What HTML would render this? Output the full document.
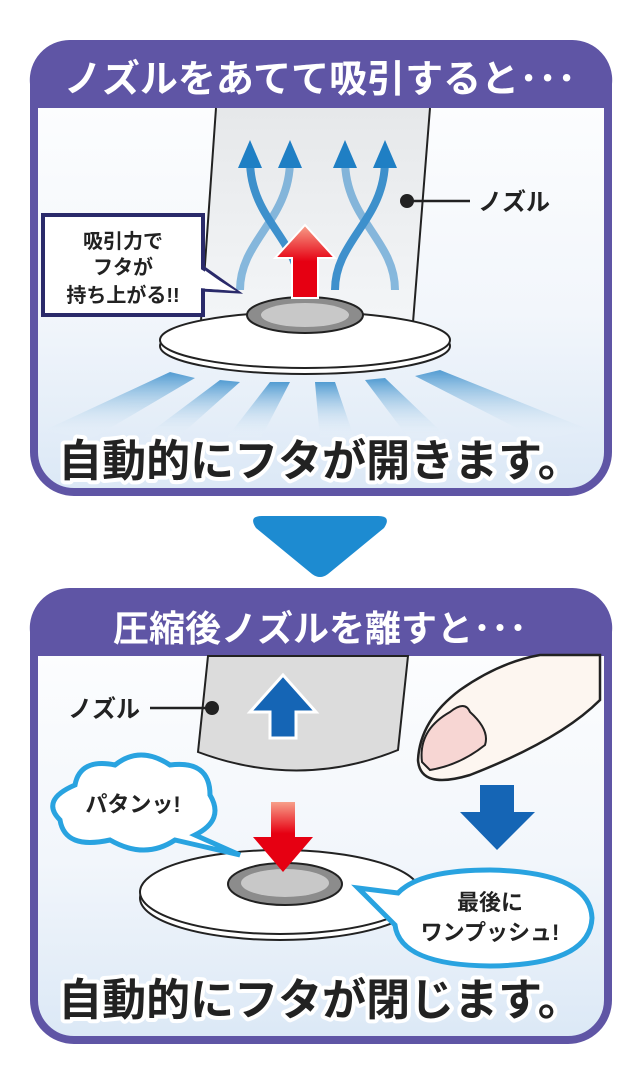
<!DOCTYPE html>
<html><head><meta charset="utf-8"><style>
html,body{margin:0;padding:0;background:#fff}
svg{display:block}
text{font-family:"Liberation Sans","Noto Sans CJK JP",sans-serif;font-weight:bold}
</style></head><body>
<svg width="640" height="1066" viewBox="0 0 640 1066" xmlns="http://www.w3.org/2000/svg">
<defs>
<linearGradient id="bg" x1="0" y1="0" x2="0" y2="1">
<stop offset="0" stop-color="#ffffff"/><stop offset="0.6" stop-color="#f2f6fb"/><stop offset="1" stop-color="#dbe8f6"/></linearGradient>
<linearGradient id="red" x1="0" y1="1" x2="0" y2="0"><stop offset="0" stop-color="#e60012"/><stop offset="0.5" stop-color="#e60012"/><stop offset="1" stop-color="#f7a08a"/></linearGradient>
<linearGradient id="redd" x1="0" y1="0" x2="0" y2="1"><stop offset="0" stop-color="#f7a08a"/><stop offset="0.45" stop-color="#e60012"/><stop offset="1" stop-color="#e60012"/></linearGradient>
<linearGradient id="ray" x1="0" y1="1" x2="0" y2="0"><stop offset="0" stop-color="#ffffff" stop-opacity="0"/><stop offset="1" stop-color="#2b86c8"/></linearGradient>
<linearGradient id="noz" x1="0" y1="0" x2="0" y2="1"><stop offset="0" stop-color="#e6e8ea"/><stop offset="1" stop-color="#f4f6f8"/></linearGradient>
</defs>
<!-- TOP PANEL -->
<rect x="34" y="44" width="574" height="448" rx="40" fill="url(#bg)" stroke="#5f55a5" stroke-width="8"/>
<path d="M30 108 V84 A40 40 0 0 1 70 40 H572 A40 40 0 0 1 612 84 V108 Z" fill="#5f55a5"/>
<text x="320" y="92" font-size="38" fill="#fff" text-anchor="middle">ノズルをあてて吸引すると･･･</text>
<!-- nozzle -->
<path d="M216 108 L430 108 L412 330 L200 330 Z" fill="url(#noz)"/>
<path d="M216 108 L200 335 M430 108 L412 335" stroke="#222" stroke-width="2" fill="none"/>
<!-- blue curly arrows -->
<g fill="none" stroke="#2b86c8" stroke-width="8" opacity="0.9">
<path d="M250 160 C250 220 300 240 300 290"/><path d="M290 160 C290 220 240 240 240 290" opacity="0.6"/>
<path d="M345 160 C345 220 395 240 395 290" opacity="0.6"/><path d="M385 160 C385 220 335 240 335 290"/>
</g>
<g fill="#1f7fc4">
<polygon points="250,140 238,168 262,168"/><polygon points="290,140 278,168 302,168"/>
<polygon points="345,140 333,168 357,168"/><polygon points="385,140 373,168 397,168"/>
</g>
<!-- disk -->
<ellipse cx="305" cy="346" rx="145" ry="28" fill="#fff" stroke="#222" stroke-width="2"/>
<ellipse cx="305" cy="340" rx="145" ry="28" fill="#fff" stroke="#222" stroke-width="2"/>
<ellipse cx="305" cy="315" rx="58" ry="18" fill="#8c8c8c" stroke="#222" stroke-width="2"/>
<ellipse cx="305" cy="315" rx="44" ry="12" fill="#c8c8c8"/>
<!-- red arrow up -->
<polygon points="305,225 275,258 292,258 292,298 318,298 318,258 335,258" fill="url(#red)" stroke="#fff" stroke-width="2"/>
<!-- rays -->
<g fill="url(#ray)" opacity="0.8">
<polygon points="170,372 195,378 90,440 45,430"/><polygon points="220,380 240,382 175,440 140,440"/>
<polygon points="270,382 290,382 260,440 225,440"/><polygon points="315,382 335,382 355,440 320,440"/>
<polygon points="365,380 385,378 450,440 410,440"/><polygon points="415,376 440,370 590,430 540,440"/>
</g>
<!-- callout -->
<polygon points="200,265 238,292 200,290" fill="#fff" stroke="#2a2a6a" stroke-width="3"/>
<rect x="43" y="215" width="160" height="100" fill="#fff" stroke="#2a2a6a" stroke-width="4"/>
<polygon points="199,268 236,291 199,288" fill="#fff"/>
<text x="123" y="248" font-size="20" fill="#222" text-anchor="middle">吸引力で</text>
<text x="123" y="274" font-size="20" fill="#222" text-anchor="middle">フタが</text>
<text x="123" y="302" font-size="20" fill="#222" text-anchor="middle">持ち上がる!!</text>
<!-- nozzle label -->
<circle cx="407" cy="201" r="7" fill="#222"/>
<line x1="407" y1="201" x2="470" y2="201" stroke="#222" stroke-width="2.5"/>
<text x="478" y="210" font-size="24" fill="#222">ノズル</text>
<text x="320" y="476" font-size="44" fill="#fff" stroke="#fff" stroke-width="8" text-anchor="middle" stroke-linejoin="round">自動的にフタが開きます。</text>
<text x="320" y="476" font-size="44" fill="#222" text-anchor="middle">自動的にフタが開きます。</text>
<!-- triangle -->
<path d="M262 516 H378 Q392 516 384 528 L328 574 Q320 580 312 574 L256 528 Q248 516 262 516 Z" fill="#1d8bd1"/>
<!-- BOTTOM PANEL -->
<rect x="34" y="592" width="574" height="448" rx="40" fill="url(#bg)" stroke="#5f55a5" stroke-width="8"/>
<path d="M30 656 V632 A40 40 0 0 1 70 588 H572 A40 40 0 0 1 612 632 V656 Z" fill="#5f55a5"/>
<text x="320" y="641" font-size="36" fill="#fff" text-anchor="middle">圧縮後ノズルを離すと･･･</text>
<!-- nozzle -->
<path d="M208 656 L408 656 L398 750 Q300 790 198 752 Z" fill="#dcdcdc" stroke="#222" stroke-width="2"/>
<polygon points="283,675 250,712 270,712 270,738 296,738 296,712 316,712" fill="#1565b5" stroke="#fff" stroke-width="3"/>
<circle cx="212" cy="708" r="7" fill="#222"/>
<line x1="150" y1="708" x2="212" y2="708" stroke="#222" stroke-width="2.5"/>
<text x="68" y="717" font-size="24" fill="#222">ノズル</text>
<!-- finger -->
<path d="M600 655 L600 700 Q560 740 470 775 Q420 790 418 760 Q420 720 460 690 Q500 662 540 655 Z" fill="#fdf6f0" stroke="#222" stroke-width="2.5"/>
<path d="M422 762 Q418 730 450 712 Q465 700 470 712 Q490 730 485 745 Q460 765 430 770 Z" fill="#f7d6d3" stroke="#222" stroke-width="2"/>
<polygon points="497,850 460,812 480,812 480,785 514,785 514,812 535,812" fill="#1565b5"/>
<!-- disk -->
<ellipse cx="280" cy="898" rx="140" ry="42" fill="#fff" stroke="#222" stroke-width="2"/>
<ellipse cx="280" cy="892" rx="140" ry="42" fill="#fff" stroke="#222" stroke-width="2"/>
<ellipse cx="285" cy="884" rx="57" ry="21" fill="#8c8c8c" stroke="#222" stroke-width="2"/>
<ellipse cx="285" cy="883" rx="44" ry="14" fill="#c8c8c8"/>
<polygon points="283,872 253,837 271,837 271,802 295,802 295,837 313,837" fill="url(#redd)"/>
<!-- cloud bubble -->
<g fill="#fff" stroke="#29a3e0" stroke-width="5">
<path d="M75 785 Q80 758 115 765 Q140 745 170 765 Q210 760 210 795 Q225 820 195 835 L240 855 L175 840 Q145 860 110 840 Q65 850 60 820 Q40 800 75 785 Z"/>
</g>
<text x="133" y="812" font-size="22" fill="#222" text-anchor="middle">パタンッ!</text>
<!-- push bubble -->
<path d="M358 888 L398 893 Q420 870 490 870 Q590 872 592 918 Q590 965 490 966 Q400 965 395 925 Z" fill="#fff" stroke="#29a3e0" stroke-width="5"/>
<text x="490" y="910" font-size="22" fill="#222" text-anchor="middle">最後に</text>
<text x="490" y="940" font-size="22" fill="#222" text-anchor="middle">ワンプッシュ!</text>
<text x="320" y="1015" font-size="44" fill="#fff" stroke="#fff" stroke-width="8" text-anchor="middle" stroke-linejoin="round">自動的にフタが閉じます。</text>
<text x="320" y="1015" font-size="44" fill="#222" text-anchor="middle">自動的にフタが閉じます。</text>
</svg>
</body></html>
